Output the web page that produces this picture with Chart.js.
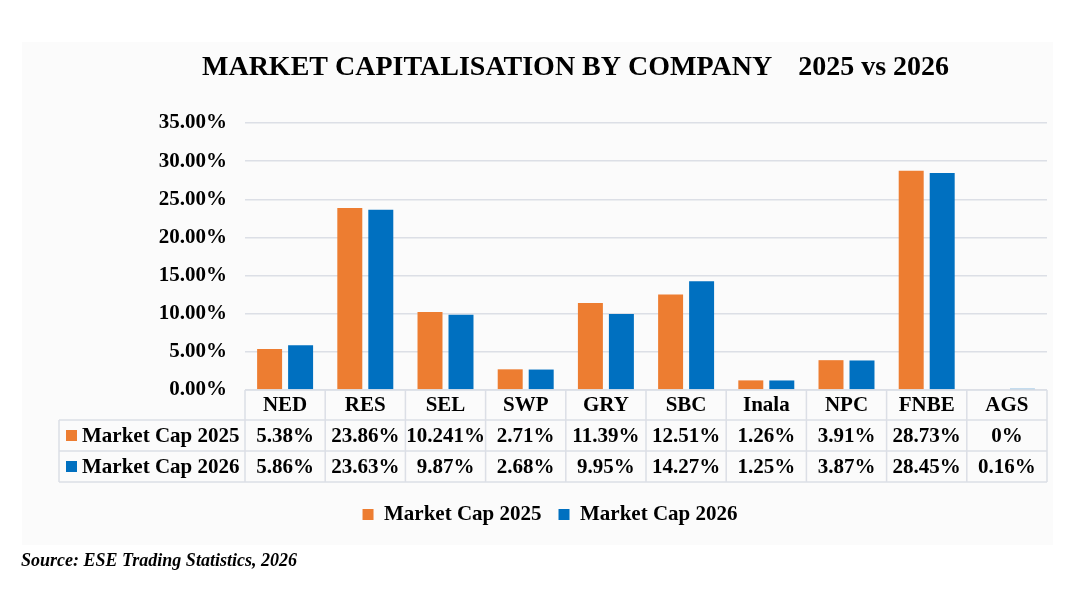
<!DOCTYPE html>
<html>
<head>
<meta charset="utf-8">
<script src="https://cdn.jsdelivr.net/npm/chart.js@4/dist/chart.umd.min.js"></script>
<style>
  html, body { margin: 0; padding: 0; background: #ffffff; }
  #wrap { position: relative; width: 1066px; height: 599px; }
</style>
</head>
<body>
<div id="wrap"><canvas id="c" width="1066" height="599"></canvas></div>
<script>
const companies = ["NED", "RES", "SEL", "SWP", "GRY", "SBC", "Inala", "NPC", "FNBE", "AGS"];
const cap2025 = [5.38, 23.86, 10.241, 2.71, 11.39, 12.51, 1.26, 3.91, 28.73, 0];
const cap2026 = [5.86, 23.63, 9.87, 2.68, 9.95, 14.27, 1.25, 3.87, 28.45, 0.16];
const seriesNames = ["Market Cap 2025", "Market Cap 2026"];
const titleMain = "MARKET CAPITALISATION BY COMPANY";
const titleYears = "2025 vs 2026";
const sourceText = "Source: ESE Trading Statistics, 2026";

const ORANGE = "#ED7D31";
const BLUE = "#0070C0";
const GRID = "#dcdfe6";
const FONT = "'Liberation Serif', 'Times New Roman', serif";

const panelPlugin = {
  id: 'panel',
  beforeDraw(chart) {
    const ctx = chart.ctx;
    ctx.save();
    ctx.fillStyle = '#ffffff';
    ctx.fillRect(0, 0, chart.width, chart.height);
    ctx.fillStyle = '#fbfbfb';
    ctx.fillRect(22, 42, 1031, 503);
    ctx.restore();
  }
};

const titlePlugin = {
  id: 'customTitle',
  afterDraw(chart) {
    const ctx = chart.ctx;
    ctx.save();
    ctx.fillStyle = '#000';
    ctx.font = "bold 28px " + FONT;
    ctx.textBaseline = 'alphabetic';
    ctx.textAlign = 'left';
    ctx.fillText(titleMain, 202, 75);
    const w = ctx.measureText(titleMain).width;
    ctx.fillText(titleYears, 202 + w + 26, 75);
    ctx.font = "italic bold 18px " + FONT;
    ctx.fillText(sourceText, 21, 566);
    ctx.restore();
  }
};

const tablePlugin = {
  id: 'dataTable',
  afterDraw(chart) {
    const ctx = chart.ctx;
    const area = chart.chartArea;
    const n = companies.length;
    const cw = (area.right - area.left) / n;
    const y0 = area.bottom;
    const y1 = y0 + 30;
    const y2 = y1 + 31;
    const y3 = y2 + 31;
    const xL = 59;
    ctx.save();
    ctx.strokeStyle = GRID;
    ctx.lineWidth = 1.5;
    ctx.beginPath();
    ctx.moveTo(area.left, y0); ctx.lineTo(area.right, y0);
    [y1, y2, y3].forEach(y => { ctx.moveTo(xL, y); ctx.lineTo(area.right, y); });
    for (let i = 0; i <= n; i++) {
      const x = area.left + i * cw;
      ctx.moveTo(x, y0); ctx.lineTo(x, y3);
    }
    ctx.moveTo(xL, y1); ctx.lineTo(xL, y3);
    ctx.stroke();

    ctx.fillStyle = '#000';
    ctx.font = "bold 21px " + FONT;
    ctx.textBaseline = 'middle';
    ctx.textAlign = 'center';
    const xs = chart.scales.x;
    companies.forEach((c, i) => {
      const cx = xs.getPixelForValue(i);
      ctx.fillText(c, cx, (y0 + y1) / 2 + 1);
      ctx.fillText(String(cap2025[i]) + '%', cx, (y1 + y2) / 2 + 1);
      ctx.fillText(String(cap2026[i]) + '%', cx, (y2 + y3) / 2 + 1);
    });
    ctx.textAlign = 'left';
    const rows = [[y1, y2, ORANGE, seriesNames[0]], [y2, y3, BLUE, seriesNames[1]]];
    rows.forEach(([a, b, col, label]) => {
      const cy = (a + b) / 2;
      ctx.fillStyle = col;
      ctx.fillRect(66, cy - 5.5, 11, 11);
      ctx.fillStyle = '#000';
      ctx.fillText(label, 82, cy + 1);
    });
    ctx.restore();
  }
};

new Chart(document.getElementById('c'), {
  type: 'bar',
  data: {
    labels: companies,
    datasets: [
      { label: seriesNames[0], data: cap2025, backgroundColor: ORANGE, borderWidth: 0,
        categoryPercentage: 0.773, barPercentage: 0.806 },
      { label: seriesNames[1], data: cap2026, backgroundColor: BLUE, borderWidth: 0,
        categoryPercentage: 0.773, barPercentage: 0.806 }
    ]
  },
  options: {
    responsive: false,
    animation: false,
    devicePixelRatio: 1,
    layout: { padding: { left: 53, right: 19, top: 123, bottom: 64 } },
    plugins: {
      title: { display: false },
      tooltip: { enabled: false },
      legend: {
        display: true,
        position: 'bottom',
        labels: {
          boxWidth: 11,
          boxHeight: 11,
          padding: 17,
          color: '#000',
          font: { family: FONT, size: 21, weight: 'bold' }
        }
      }
    },
    scales: {
      x: {
        grid: { display: false },
        border: { display: false },
        ticks: { display: false },
        afterFit(scale) { scale.height = 97; }
      },
      y: {
        min: 0,
        max: 35,
        ticks: {
          stepSize: 5,
          padding: 18,
          color: '#000',
          font: { family: FONT, size: 21, weight: 'bold' },
          callback: v => v.toFixed(2) + '%'
        },
        grid: { color: GRID, lineWidth: 1.5, drawTicks: false },
        border: { display: false },
        afterFit(scale) { scale.width = 192; }
      }
    }
  },
  plugins: [panelPlugin, titlePlugin, tablePlugin]
});
</script>
</body>
</html>
